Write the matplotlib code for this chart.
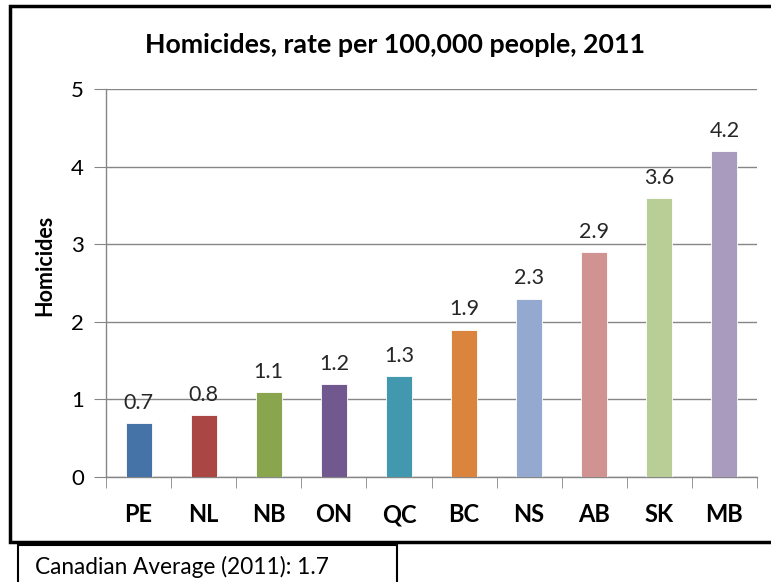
import matplotlib
matplotlib.use("Agg")
import matplotlib.pyplot as plt
from matplotlib.patches import Rectangle
from matplotlib.lines import Line2D
import numpy as np

provinces = ["PE", "NL", "NB", "ON", "QC", "BC", "NS", "AB", "SK", "MB"]
rates = [0.7, 0.8, 1.1, 1.2, 1.3, 1.9, 2.3, 2.9, 3.6, 4.2]
colors = ["#4572A7", "#AA4643", "#89A54E", "#71588F", "#4198AF",
          "#DB843D", "#93A9CF", "#D19392", "#B9CD96", "#A99BBD"]
title = "Homicides, rate per 100,000 people, 2011"
ylabel = "Homicides"
note = "Canadian Average (2011): 1.7"

plt.rcParams['font.family'] = ['Lato', 'DejaVu Sans']

W, H = 771, 582
fig = plt.figure(figsize=(W / 100, H / 100), dpi=100)

def fx(px):
    return px / W

def fy(py):
    return 1 - py / H

ax = fig.add_axes([fx(106), fy(477), fx(757) - fx(106), fy(89) - fy(477)])
x = np.arange(len(provinces))
bars = ax.bar(x, rates, width=0.4, color=colors, edgecolor="white", linewidth=0.6, zorder=3)
for xi, v in zip(x, rates):
    ax.text(xi, v + 0.13, f"{v}", ha="center", va="bottom", fontsize=15.5, color="#262626")

ax.set_xlim(-0.5, len(provinces) - 0.5)
ax.set_ylim(0, 5)
ax.set_yticks(range(0, 6))
ax.set_xticks(x)
ax.set_xticklabels(provinces, fontsize=17, fontweight="bold")
ax.set_xticks(np.arange(-0.5, len(provinces), 1), minor=True)
ax.tick_params(axis="x", which="major", length=0, pad=19)
ax.tick_params(axis="x", which="minor", length=8, color="#868686", direction="out")
ax.tick_params(axis="y", length=9, color="#868686", labelsize=16, pad=7)
ax.yaxis.grid(True, color="#868686", linewidth=1, zorder=0)
for s in ["top", "right"]:
    ax.spines[s].set_visible(False)
for s in ["left", "bottom"]:
    ax.spines[s].set_color("#868686")
    ax.spines[s].set_linewidth(1)

fig.text(fx(45), fy(265), ylabel, rotation=90, ha="center", va="center",
         fontsize=15.5, fontweight="bold")
fig.text(fx(395), fy(45), title, ha="center", va="center", fontsize=19.3, fontweight="bold")

# outer chart frame (left, top, bottom edges; right edge lies beyond the image)
frame_x = [fx(900), fx(10), fx(10), fx(900)]
frame_y = [fy(6), fy(6), fy(542), fy(542)]
fig.add_artist(Line2D(frame_x, frame_y, transform=fig.transFigure, color="black",
                      linewidth=2.5, solid_joinstyle="miter"))
# note box
fig.add_artist(Rectangle((fx(18), fy(600)), fx(397) - fx(18), fy(545) - fy(600),
                         transform=fig.transFigure, fill=False, edgecolor="black",
                         linewidth=1.5, clip_on=False))
fig.text(fx(35), fy(567), note, ha="left", va="center", fontsize=16.3)

fig.savefig("out.png", dpi=100)
